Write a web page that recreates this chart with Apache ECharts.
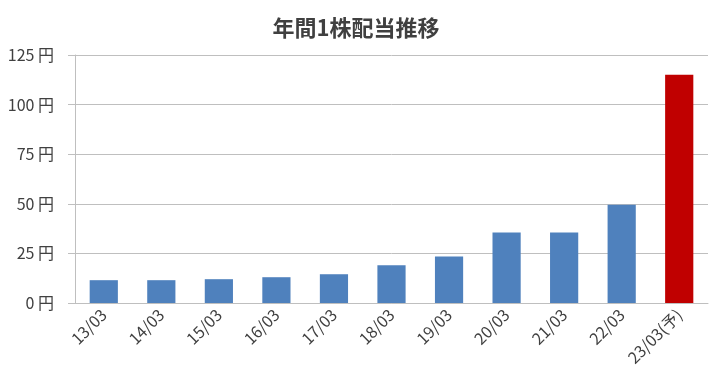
<!DOCTYPE html>
<html lang="ja" style="height: 100%">
<head>
  <meta charset="utf-8">
</head>
<body style="height: 100%; margin: 0">
  <div id="container" style="width: 712px; height: 390px"></div>
  <script type="text/javascript" src="https://cdn.jsdelivr.net/npm/echarts@6/dist/echarts.min.js"></script>
  <script type="text/javascript">
    var categories = ['13/03', '14/03', '15/03', '16/03', '17/03', '18/03', '19/03', '20/03', '21/03', '22/03', '23/03(予)'];
    var dividends = [11.5, 11.5, 12, 13, 14.5, 19, 23.5, 35.5, 35.5, 49.5, 115];
    var forecastIndex = 10;
    var yTicks = [0, 25, 50, 75, 100, 125];

    var dom = document.getElementById('container');
    var myChart = echarts.init(dom, null, { renderer: 'canvas' });
    var font = '"Noto Sans CJK JP", "Noto Sans", sans-serif';

    var option = {
      animation: false,
      title: {
        text: '年間1株配当推移',
        left: 'center',
        top: 12,
        textStyle: { fontFamily: font, fontSize: 22, fontWeight: 'bold', color: '#404040' }
      },
      grid: { left: 75, right: 4, top: 55, bottom: 87 },
      xAxis: {
        type: 'category',
        data: categories,
        axisLine: { lineStyle: { color: '#bfbfbf' } },
        axisTick: { inside: true, length: 9, lineStyle: { color: '#bfbfbf' } },
        axisLabel: { rotate: 45, margin: 9, fontFamily: font, fontSize: 16, color: '#404040' }
      },
      yAxis: {
        type: 'value',
        min: yTicks[0],
        max: yTicks[yTicks.length - 1],
        interval: 25,
        axisLine: { show: true, lineStyle: { color: '#bfbfbf' } },
        axisTick: { show: true, length: 7, lineStyle: { color: '#bfbfbf' } },
        splitLine: { lineStyle: { color: '#bfbfbf' } },
        axisLabel: {
          margin: 21,
          fontFamily: font,
          fontSize: 16,
          color: '#404040',
          formatter: function (v) { return v + ' 円'; }
        }
      },
      series: [{
        type: 'bar',
        barWidth: '49%',
        data: dividends.map(function (v, i) {
          return { value: v, itemStyle: { color: i === forecastIndex ? '#c00000' : '#4f81bd' } };
        })
      }]
    };

    myChart.setOption(option);
    window.addEventListener('resize', myChart.resize);
  </script>
</body>
</html>
